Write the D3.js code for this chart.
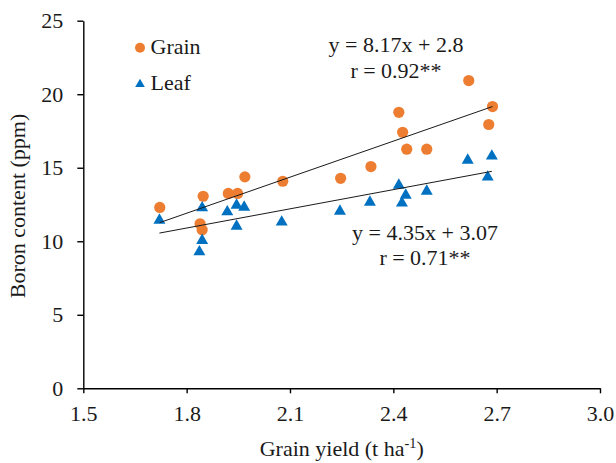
<!DOCTYPE html>
<html>
<head>
<meta charset="utf-8">
<script src="https://cdn.jsdelivr.net/npm/d3@7/dist/d3.min.js"></script>
<style>
  html, body { margin: 0; padding: 0; background: #fff; }
  svg { display: block; }
  text { font-family: "Liberation Serif", "Times New Roman", serif; fill: #1a1a1a; }
</style>
</head>
<body>
<svg id="chart" width="616" height="463"></svg>
<script>
// ---- data ----
const grainX = [1.722, 1.848, 1.839, 1.845, 1.921, 1.948, 1.969, 2.079, 2.247, 2.335, 2.416, 2.427, 2.439, 2.497, 2.619, 2.688, 2.677];
const grainY = [12.30, 13.06, 11.19, 10.78, 13.25, 13.25, 14.38, 14.08, 14.28, 15.08, 18.77, 17.41, 16.26, 16.26, 20.93, 19.16, 17.94];

const leafX = [1.721, 1.845, 1.845, 1.837, 1.918, 1.945, 1.967, 1.945, 2.076, 2.245, 2.332, 2.416, 2.436, 2.425, 2.497, 2.616, 2.686, 2.674];
const leafY = [11.50, 12.34, 10.12, 9.35, 12.07, 12.52, 12.38, 11.09, 11.37, 12.11, 12.72, 13.88, 13.20, 12.66, 13.47, 15.58, 15.86, 14.43];

// trend lines as printed (grain intercept is negative in the drawn line)
const trendSlope = [8.17, 4.35];
const trendIntercept = [-2.8, 3.07];

const xTicks = [1.5, 1.8, 2.1, 2.4, 2.7, 3.0];
const yTicks = [0, 5, 10, 15, 20, 25];

const seriesNames = ["Grain", "Leaf"];
const eqLabels = [["y = 8.17x + 2.8", "r = 0.92**"], ["y = 4.35x + 3.07", "r = 0.71**"]];

const colors = ["#ED7D31", "#0070C0"];

// ---- drawing ----
const svg = d3.select("#chart");
const mLeft = 83.3, mRight = 600, mTop = 20.7, mBottom = 388.3;
const fs = 22;

const x = d3.scaleLinear().domain([1.5, 3.0]).range([mLeft, mRight]);
const y = d3.scaleLinear().domain([0, 25]).range([mBottom, mTop]);

// axes
const xAxis = svg.append("g").attr("transform", `translate(0,${mBottom})`)
  .call(d3.axisBottom(x).tickValues(xTicks).tickFormat(d3.format(".1f"))
    .tickSizeInner(5).tickSizeOuter(0).tickPadding(12));
const yAxis = svg.append("g").attr("transform", `translate(${mLeft},0)`)
  .call(d3.axisLeft(y).tickValues(yTicks).tickFormat(d3.format("d"))
    .tickSizeInner(6).tickSizeOuter(0).tickPadding(14));
[xAxis, yAxis].forEach(g => {
  g.select(".domain").attr("stroke", "#000").attr("stroke-width", 1.4);
  g.selectAll(".tick line").attr("stroke", "#000").attr("stroke-width", 1.4);
  g.selectAll(".tick text").attr("font-size", fs)
    .attr("font-family", "'Liberation Serif', 'Times New Roman', serif").attr("fill", "#1a1a1a");
});

// markers
const grain = grainX.map((v, i) => ({ x: v, y: grainY[i] }));
const leaf = leafX.map((v, i) => ({ x: v, y: leafY[i] }));

svg.append("g").selectAll("circle").data(grain).join("circle")
  .attr("cx", d => x(d.x)).attr("cy", d => y(d.y)).attr("r", 5.6)
  .attr("fill", colors[0]);

const tri = d3.symbol().type(d3.symbolTriangle).size(62);
svg.append("g").selectAll("path").data(leaf).join("path")
  .attr("d", tri)
  .attr("transform", d => `translate(${x(d.x)},${y(d.y) + 1})`)
  .attr("fill", colors[1]);

// trend lines (span of the data)
const spans = [d3.extent(grainX), d3.extent(leafX)];
trendSlope.forEach((m, i) => {
  const [x0, x1] = spans[i];
  svg.append("line")
    .attr("x1", x(x0)).attr("y1", y(m * x0 + trendIntercept[i]))
    .attr("x2", x(x1)).attr("y2", y(m * x1 + trendIntercept[i]))
    .attr("stroke", "#1a1a1a").attr("stroke-width", 1);
});

// equation labels
const eqPos = [[396, 52, 77.5], [425, 240, 265]];
eqLabels.forEach((lines, i) => {
  lines.forEach((t, j) => {
    svg.append("text").attr("x", eqPos[i][0]).attr("y", eqPos[i][1 + j])
      .attr("text-anchor", "middle").attr("font-size", fs).text(t);
  });
});

// legend
const legY = [47.7, 83.3];
svg.append("circle").attr("cx", 140).attr("cy", legY[0]).attr("r", 5).attr("fill", colors[0]);
svg.append("path").attr("d", d3.symbol().type(d3.symbolTriangle).size(40))
  .attr("transform", `translate(140,${legY[1] + 1})`).attr("fill", colors[1]);
seriesNames.forEach((n, i) => {
  svg.append("text").attr("x", 150.5).attr("y", legY[i] + 6.5)
    .attr("font-size", fs).text(n);
});

// axis titles
const xt = svg.append("text").attr("x", 341.7).attr("y", 456)
  .attr("text-anchor", "middle").attr("font-size", fs);
xt.append("tspan").text("Grain yield (t ha");
xt.append("tspan").attr("font-size", fs * 0.65).attr("dy", -8).text("-1");
xt.append("tspan").attr("dy", 8).text(")");

svg.append("text")
  .attr("transform", `translate(25,206) rotate(-90)`)
  .attr("text-anchor", "middle").attr("font-size", fs)
  .text("Boron content (ppm)");
</script>
</body>
</html>
